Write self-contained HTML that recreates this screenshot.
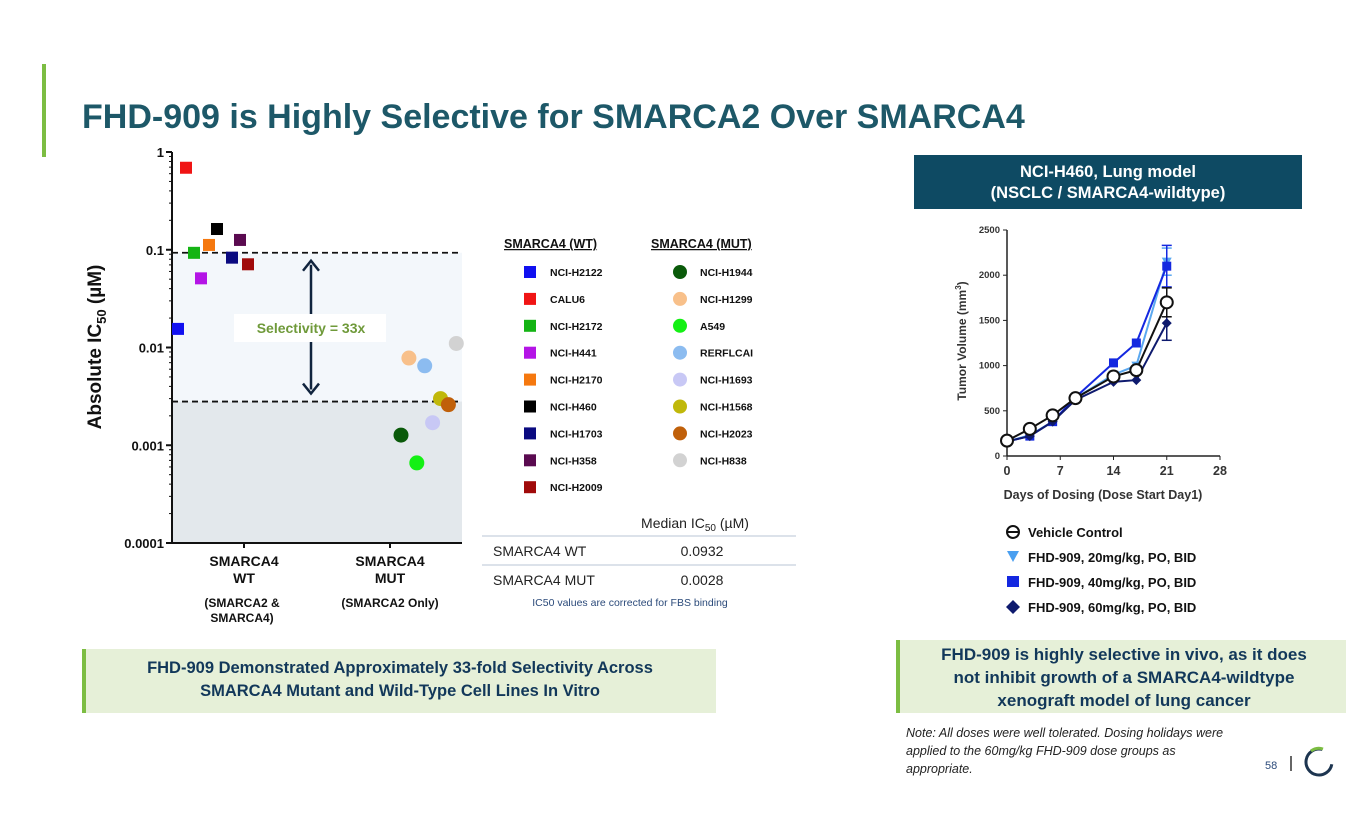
<!DOCTYPE html>
<html><head><meta charset="utf-8"><style>
body{margin:0;background:#fff;font-family:"Liberation Sans",Arial,sans-serif}
svg text{font-family:"Liberation Sans",Arial,sans-serif}
</style></head><body>
<svg id="s" width="1365" height="829" viewBox="0 0 1365 829" xmlns="http://www.w3.org/2000/svg">
<rect x="42" y="64" width="4" height="93" fill="#7cbd42"/>
<text x="82" y="128" font-size="34" font-weight="bold" fill="#1d5868">FHD-909 is Highly Selective for SMARCA2 Over SMARCA4</text>

<g id="left"></g>

<g id="legWT"></g>
<g id="legMUT"></g>
<text x="504" y="248" font-size="12.5" font-weight="bold" text-decoration="underline" fill="#111">SMARCA4 (WT)</text>
<text x="651" y="248" font-size="12.5" font-weight="bold" text-decoration="underline" fill="#111">SMARCA4 (MUT)</text>

<g>
<text x="695" y="528" font-size="14" text-anchor="middle" fill="#222">Median IC<tspan font-size="10" dy="3">50</tspan><tspan dy="-3"> (µM)</tspan></text>
<line x1="482" y1="536" x2="796" y2="536" stroke="#b8c4d4"/>
<text x="493" y="556" font-size="14" fill="#222">SMARCA4 WT</text>
<text x="702" y="556" font-size="14" text-anchor="middle" fill="#222">0.0932</text>
<line x1="482" y1="565" x2="796" y2="565" stroke="#b8c4d4"/>
<text x="493" y="585" font-size="14" fill="#222">SMARCA4 MUT</text>
<text x="702" y="585" font-size="14" text-anchor="middle" fill="#222">0.0028</text>
<text x="630" y="606" font-size="10.5" text-anchor="middle" fill="#2b4a7a">IC50 values are corrected for FBS binding</text>
</g>

<rect x="82" y="649" width="634" height="64" fill="#e6f0d8"/>
<rect x="82" y="649" width="4" height="64" fill="#7cbd42"/>
<text x="400" y="673" font-size="16.5" font-weight="bold" fill="#12385a" text-anchor="middle"><tspan x="400">FHD-909 Demonstrated Approximately 33-fold Selectivity Across</tspan><tspan x="400" dy="23">SMARCA4 Mutant and Wild-Type Cell Lines In Vitro</tspan></text>

<rect x="914" y="155" width="388" height="54" fill="#0e4a63"/>
<text x="1108" y="177" font-size="16.5" font-weight="bold" fill="#fff" text-anchor="middle"><tspan x="1108">NCI-H460, Lung model</tspan><tspan x="1108" dy="21">(NSCLC / SMARCA4-wildtype)</tspan></text>

<g id="right"></g>

<g font-size="13" font-weight="bold" fill="#111">
<circle cx="1013" cy="532" r="6" fill="none" stroke="#111" stroke-width="2"/><line x1="1007" y1="532" x2="1019" y2="532" stroke="#111" stroke-width="2"/>
<text x="1028" y="537">Vehicle Control</text>
<path d="M1007 551 L1019 551 L1013 562 Z" fill="#4a9ff0"/>
<text x="1028" y="562">FHD-909, 20mg/kg, PO, BID</text>
<rect x="1007" y="576" width="12" height="11" fill="#1428e0"/>
<text x="1028" y="587">FHD-909, 40mg/kg, PO, BID</text>
<path d="M1013 600 L1020 607 L1013 614 L1006 607 Z" fill="#0e1a6e"/>
<text x="1028" y="612">FHD-909, 60mg/kg, PO, BID</text>
</g>

<rect x="896" y="640" width="450" height="73" fill="#e6f0d8"/>
<rect x="896" y="640" width="4" height="73" fill="#7cbd42"/>
<text x="1124" y="660" font-size="17" font-weight="bold" fill="#12385a" text-anchor="middle"><tspan x="1124">FHD-909 is highly selective in vivo, as it does</tspan><tspan x="1124" dy="23">not inhibit growth of a SMARCA4-wildtype</tspan><tspan x="1124" dy="23">xenograft model of lung cancer</tspan></text>
<text x="906" y="737" font-size="12.5" font-style="italic" fill="#222"><tspan x="906">Note: All doses were well tolerated. Dosing holidays were</tspan><tspan x="906" dy="18">applied to the 60mg/kg FHD-909 dose groups as</tspan><tspan x="906" dy="18">appropriate.</tspan></text>
<text x="1265" y="769" font-size="11" fill="#2b4a7a">58</text>
<line x1="1291" y1="756" x2="1291" y2="771" stroke="#333" stroke-width="1.5"/>
<g>
<circle cx="1319" cy="762" r="13" fill="none" stroke="#1d3550" stroke-width="3" stroke-dasharray="62 20" transform="rotate(10 1319 762)"/>
<path d="M1311 751 A13 13 0 0 1 1323 749" fill="none" stroke="#7cbd42" stroke-width="3"/>
</g>
</svg>
<script>
const NS="http://www.w3.org/2000/svg";
function mk(tag,attrs,parent){const e=document.createElementNS(NS,tag);for(const k in attrs)e.setAttribute(k,attrs[k]);parent.appendChild(e);return e;}
// ---- IC50 data ----
const wtNames=["NCI-H2122","CALU6","NCI-H2172","NCI-H441","NCI-H2170","NCI-H460","NCI-H1703","NCI-H358","NCI-H2009"];
const wtValues=[0.0155,0.69,0.093,0.051,0.112,0.163,0.083,0.126,0.071];
const wtColors=["#1010f0","#f01414","#14b414","#b414e6","#f5780f","#000000","#0a0a80","#5a0a50","#a00a0a"];
const mutNames=["NCI-H1944","NCI-H1299","A549","RERFLCAI","NCI-H1693","NCI-H1568","NCI-H2023","NCI-H838"];
const mutValues=[0.00127,0.0078,0.00066,0.0065,0.0017,0.0030,0.0026,0.011];
const mutColors=["#0a5a0a","#f8c08a","#14f014","#8cbcf0","#c8c8f5","#c0b80a","#c0600a","#d2d2d2"];
const medians=[0.0932,0.0028];
const yTickVals=[1,0.1,0.01,0.001,0.0001];
const yTickLabels=["1","0.1","0.01","0.001","0.0001"];
const categories=["SMARCA4\nWT","SMARCA4\nMUT"];
const subLabels=["(SMARCA2 &\nSMARCA4)","(SMARCA2 Only)"];

const L=document.getElementById("left");
const X0=172,X1=462,YT=152,YB=543;
const y=v=>YT+(-Math.log10(v))/4*(YB-YT);
const catX=[244,390];
let r=mk("rect",{x:X0,y:y(medians[0]),width:X1-X0,height:y(medians[1])-y(medians[0]),fill:"#f3f7fb"},L);


r=mk("rect",{x:X0,y:y(medians[1]),width:X1-X0,height:YB-y(medians[1]),fill:"#e3e8ec"},L);


medians.forEach((m,i)=>{const l=mk("line",{x1:X0,x2:X1,y1:y(m),y2:y(m),stroke:"#111","stroke-width":1.8,"stroke-dasharray":"6 4"},L);

});
mk("line",{x1:X0,x2:X0,y1:YT,y2:YB,stroke:"#111","stroke-width":2},L);
mk("line",{x1:X0,x2:X1,y1:YB,y2:YB,stroke:"#111","stroke-width":2},L);
yTickVals.forEach((v,i)=>{const yy=y(v);mk("line",{x1:X0-6,x2:X0,y1:yy,y2:yy,stroke:"#111","stroke-width":2},L);
const t=mk("text",{x:X0-8,y:yy+5,"font-size":13,"font-weight":"bold","text-anchor":"end",fill:"#111"},L);t.textContent=yTickLabels[i];


if(i<4)for(let k=2;k<10;k++){const my=y(v/10*k);mk("line",{x1:X0-3,x2:X0,y1:my,y2:my,stroke:"#111","stroke-width":1},L);}});
let yt=mk("text",{x:0,y:0,"font-size":19,"font-weight":"bold",fill:"#111","text-anchor":"middle",transform:"translate(101,347) rotate(-90)"},L);
yt.innerHTML='Absolute IC<tspan font-size="13" dy="5">50</tspan><tspan dy="-5"> (µM)</tspan>';


categories.forEach((c,i)=>{mk("line",{x1:catX[i],x2:catX[i],y1:YB,y2:YB+5,stroke:"#111","stroke-width":2},L);
c.split("\n").forEach((s,j)=>{const t=mk("text",{x:catX[i],y:566+j*17,"font-size":14,"font-weight":"bold","text-anchor":"middle",fill:"#111"},L);t.textContent=s;

});
subLabels[i].split("\n").forEach((s,j)=>{const t=mk("text",{x:catX[i]-(i?0:2),y:607+j*15,"font-size":12,"font-weight":"bold","text-anchor":"middle",fill:"#111"},L);t.textContent=s;});});
const ay1=y(medians[0])+8,ay2=y(medians[1])-8;
mk("line",{x1:311,x2:311,y1:ay1+4,y2:ay2-4,stroke:"#10243e","stroke-width":2.5},L);
mk("path",{d:`M303 ${ay1+10} L311 ${ay1} L319 ${ay1+10}`,fill:"none",stroke:"#10243e","stroke-width":2.5},L);
mk("path",{d:`M303 ${ay2-10} L311 ${ay2} L319 ${ay2-10}`,fill:"none",stroke:"#10243e","stroke-width":2.5},L);
mk("rect",{x:234,y:314,width:152,height:28,fill:"#fff"},L);
let sl=mk("text",{x:311,y:333,"font-size":14,"font-weight":"bold","text-anchor":"middle",fill:"#6f9a3a"},L);sl.textContent="Selectivity = 33x";


wtValues.forEach((v,i)=>{const px=[178,186,194,201,209,217,232,240,248][i];
const p=mk("rect",{x:px-6,y:y(v)-6,width:12,height:12,fill:wtColors[i]},L);

});
mutValues.forEach((v,i)=>{const px=401+i*7.9;
const p=mk("circle",{cx:px,cy:y(v),r:7.5,fill:mutColors[i]},L);

});
const LW=document.getElementById("legWT"),LM=document.getElementById("legMUT");
wtNames.forEach((n,i)=>{const yy=272+i*26.9;mk("rect",{x:524,y:yy-6,width:12,height:12,fill:wtColors[i]},LW);
const t=mk("text",{x:550,y:yy+4,"font-size":10.5,"font-weight":"bold",fill:"#111"},LW);t.textContent=n;

});
mutNames.forEach((n,i)=>{const yy=272+i*26.9;mk("circle",{cx:680,cy:yy,r:7,fill:mutColors[i]},LM);
const t=mk("text",{x:700,y:yy+4,"font-size":10.5,"font-weight":"bold",fill:"#111"},LM);t.textContent=n;

});

// ---- Tumor volume data ----
const days=[0,3,6,9,14,17,21];
const vehicle=[170,300,450,640,880,950,1700];
const dose20=[160,230,380,640,900,1000,2150];
const dose40=[160,220,380,650,1030,1250,2100];
const dose60=[160,220,380,620,820,840,1470];
const errLast=[230,150,190,160];
const xTicks=[0,7,14,21,28];
const yTicks=[0,500,1000,1500,2000,2500];
const R=document.getElementById("right");
const RX0=1007,RX1=1220,RY0=456,RY1=230;
const rx=d=>RX0+d/28*(RX1-RX0), ry=v=>RY0-v/2500*(RY0-RY1);
mk("line",{x1:RX0,x2:RX0,y1:RY1,y2:RY0,stroke:"#222","stroke-width":1.5},R);
mk("line",{x1:RX0,x2:RX1,y1:RY0,y2:RY0,stroke:"#222","stroke-width":1.5},R);
yTicks.forEach(v=>{mk("line",{x1:RX0-4,x2:RX0,y1:ry(v),y2:ry(v),stroke:"#222"},R);
const t=mk("text",{x:RX0-7,y:ry(v)+3,"font-size":9.5,"font-weight":"bold","text-anchor":"end",fill:"#333"},R);t.textContent=v;});
xTicks.forEach(v=>{mk("line",{x1:rx(v),x2:rx(v),y1:RY0,y2:RY0+4,stroke:"#222"},R);
const t=mk("text",{x:rx(v),y:RY0+19,"font-size":12.5,"font-weight":"bold","text-anchor":"middle",fill:"#333"},R);t.textContent=v;});
let xt=mk("text",{x:1103,y:499,"font-size":12.5,"font-weight":"bold","text-anchor":"middle",fill:"#333"},R);xt.textContent="Days of Dosing (Dose Start Day1)";


let yt2=mk("text",{x:0,y:0,"font-size":12,"font-weight":"bold","text-anchor":"middle",fill:"#333",transform:"translate(966,341) rotate(-90)"},R);
yt2.innerHTML='Tumor Volume (mm<tspan font-size="8" dy="-5">3</tspan><tspan dy="5">)</tspan>';


const series=[[dose20,"#5aa8f0","tri"],[dose40,"#1428e0","sq"],[dose60,"#0e1a6e","dia"],[vehicle,"#111","circ"]];
const order=[1,0,2,3];
series.forEach(([vals,col,sh],si)=>{
const e=errLast[order[si]];const lx=rx(days[days.length-1]);
mk("line",{x1:lx,x2:lx,y1:ry(vals[6]+e),y2:ry(vals[6]-e),stroke:col,"stroke-width":1.5},R);
mk("line",{x1:lx-5,x2:lx+5,y1:ry(vals[6]+e),y2:ry(vals[6]+e),stroke:col,"stroke-width":1.5},R);
mk("line",{x1:lx-5,x2:lx+5,y1:ry(vals[6]-e),y2:ry(vals[6]-e),stroke:col,"stroke-width":1.5},R);
const pl=mk("polyline",{points:vals.map((v,i)=>rx(days[i])+","+ry(v)).join(" "),fill:"none",stroke:col,"stroke-width":2},R);


vals.forEach((v,i)=>{const cx=rx(days[i]),cy=ry(v);let m;
if(sh=="tri")m=mk("path",{d:`M${cx-5} ${cy-4} L${cx+5} ${cy-4} L${cx} ${cy+5} Z`,fill:col},R);
else if(sh=="sq")m=mk("rect",{x:cx-4.5,y:cy-4.5,width:9,height:9,fill:col},R);
else if(sh=="dia")m=mk("path",{d:`M${cx} ${cy-5} L${cx+5} ${cy} L${cx} ${cy+5} L${cx-5} ${cy} Z`,fill:col},R);
else m=mk("circle",{cx:cx,cy:cy,r:6,fill:"#fff",stroke:col,"stroke-width":2},R);

});
});
</script>
</body></html>
